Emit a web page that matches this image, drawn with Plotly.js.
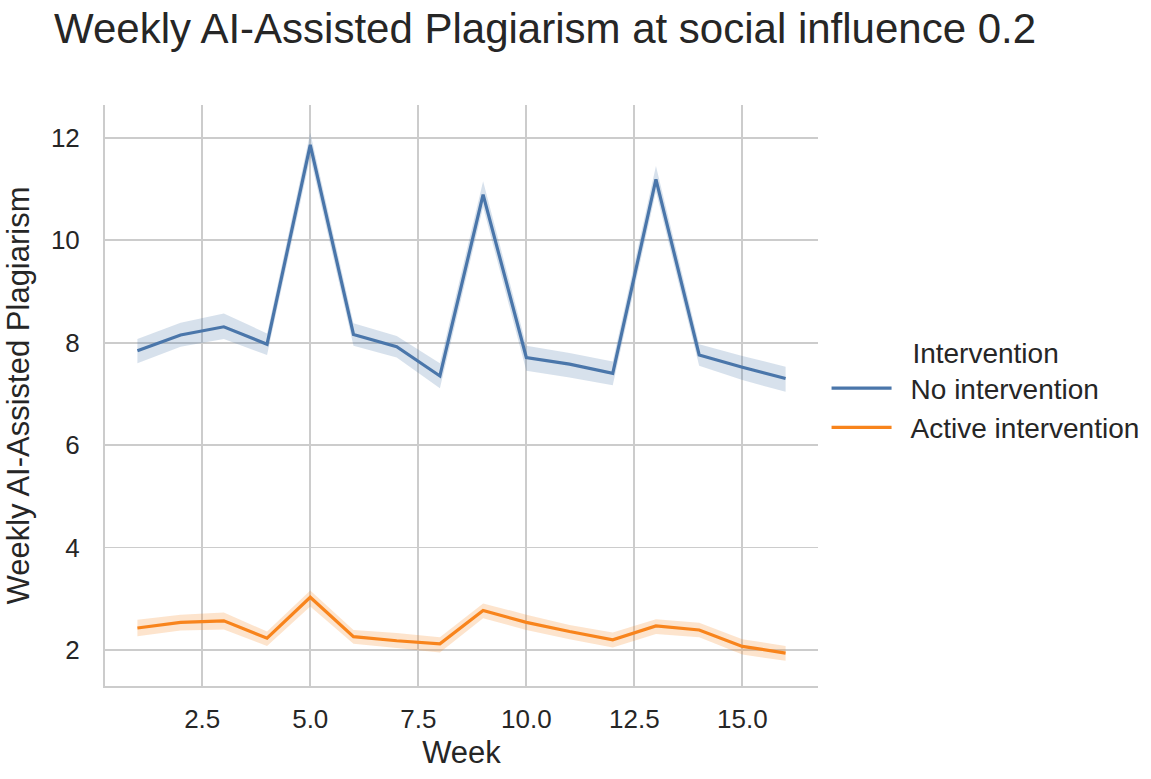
<!DOCTYPE html>
<html>
<head>
<meta charset="utf-8">
<script src="https://cdn.plot.ly/plotly-3.0.1.min.js"></script>
<style>
  html, body { margin: 0; padding: 0; background: white; }
  #chart { width: 1151px; height: 779px; }
</style>
</head>
<body>
<div id="chart"></div>
<script>
// weeks 1..16, values
const weeks = [1, 2, 3, 4, 5, 6, 7, 8, 9, 10, 11, 12, 13, 14, 15, 16];

const noMean  = [7.84, 8.15, 8.31, 7.97, 11.86, 8.16, 7.92, 7.35, 10.89, 7.71, 7.58, 7.40, 11.19, 7.76, 7.52, 7.30];
const noUpper = [8.07, 8.39, 8.57, 8.18, 12.10, 8.38, 8.13, 7.60, 11.15, 7.94, 7.80, 7.63, 11.45, 7.97, 7.74, 7.53];
const noLower = [7.60, 7.92, 8.07, 7.76, 11.62, 7.94, 7.71, 7.11, 10.65, 7.45, 7.32, 7.17, 10.95, 7.55, 7.27, 7.04];

const actMean  = [2.43, 2.54, 2.57, 2.23, 3.03, 2.26, 2.18, 2.12, 2.77, 2.54, 2.36, 2.20, 2.47, 2.39, 2.07, 1.94];
const actUpper = [2.59, 2.69, 2.73, 2.36, 3.16, 2.39, 2.33, 2.25, 2.91, 2.69, 2.49, 2.34, 2.60, 2.53, 2.21, 2.08];
const actLower = [2.27, 2.38, 2.40, 2.08, 2.85, 2.12, 2.04, 1.95, 2.62, 2.39, 2.21, 2.05, 2.31, 2.25, 1.91, 1.79];

const seriesNames = ['No intervention', 'Active intervention'];
const xTicks = [2.5, 5.0, 7.5, 10.0, 12.5, 15.0];
const yTicks = [2, 4, 6, 8, 10, 12];

const blue = '#4a76aa';
const orange = '#f8841c';

function band(lower, upper, fill) {
  return [
    { x: weeks, y: lower, mode: 'lines', line: { width: 0 }, showlegend: false, hoverinfo: 'skip' },
    { x: weeks, y: upper, mode: 'lines', line: { width: 0 }, fill: 'tonexty', fillcolor: fill, showlegend: false, hoverinfo: 'skip' }
  ];
}

// en space in front of the name gives the wider gap seaborn leaves after the line sample
const data = [
  ...band(noLower, noUpper, 'rgba(74,118,170,0.22)'),
  ...band(actLower, actUpper, 'rgba(248,132,28,0.22)'),
  { x: weeks, y: noMean, mode: 'lines', name: '\u2002' + seriesNames[0], line: { color: blue, width: 3.2 } },
  { x: weeks, y: actMean, mode: 'lines', name: '\u2002' + seriesNames[1], line: { color: orange, width: 3.2 } }
];

const font = 'Liberation Sans, Arial, sans-serif';
const layout = {
  width: 1151,
  height: 779,
  // keep the plot area fixed, the legend must not push it
  margin: { l: 105, r: 333, t: 105, b: 93, autoexpand: false },
  paper_bgcolor: 'white',
  plot_bgcolor: 'white',
  font: { family: font, color: '#262626', size: 26 },
  title: { text: 'Weekly AI-Assisted Plagiarism at social influence 0.2', x: 0.047, xanchor: 'left', y: 0.982, yanchor: 'top', font: { size: 42, color: '#262626' } },
  xaxis: {
    range: [0.25, 16.75],
    tickvals: xTicks,
    ticktext: xTicks.map(v => v.toFixed(1)),
    tickfont: { size: 26 },
    showgrid: true, gridcolor: '#cccccc', gridwidth: 1.8,
    zeroline: false,
    showline: true, linecolor: '#cccccc', linewidth: 2,
    ticks: '',
    ticklabelstandoff: 9,
    title: { text: 'Week', font: { size: 31 }, standoff: 8 }
  },
  yaxis: {
    range: [1.297, 12.64],
    tickvals: yTicks,
    tickfont: { size: 26 },
    showgrid: true, gridcolor: '#cccccc', gridwidth: 1.8,
    zeroline: false,
    showline: true, linecolor: '#cccccc', linewidth: 2,
    ticks: '',
    ticklabelstandoff: 18,
    title: { text: 'Weekly AI-Assisted Plagiarism', font: { size: 31 }, standoff: 12 }
  },
  legend: {
    x: 1.012, xanchor: 'left',
    y: 0.618, yanchor: 'top',
    font: { size: 28 },
    title: { text: 'Intervention', side: 'top center', font: { size: 28 } },
    traceorder: 'normal',
    bgcolor: 'rgba(0,0,0,0)',
    itemwidth: 60,
    tracegroupgap: 0
  },
  showlegend: true
};

Plotly.newPlot('chart', data, layout, { displayModeBar: false, staticPlot: true });
</script>
</body>
</html>
